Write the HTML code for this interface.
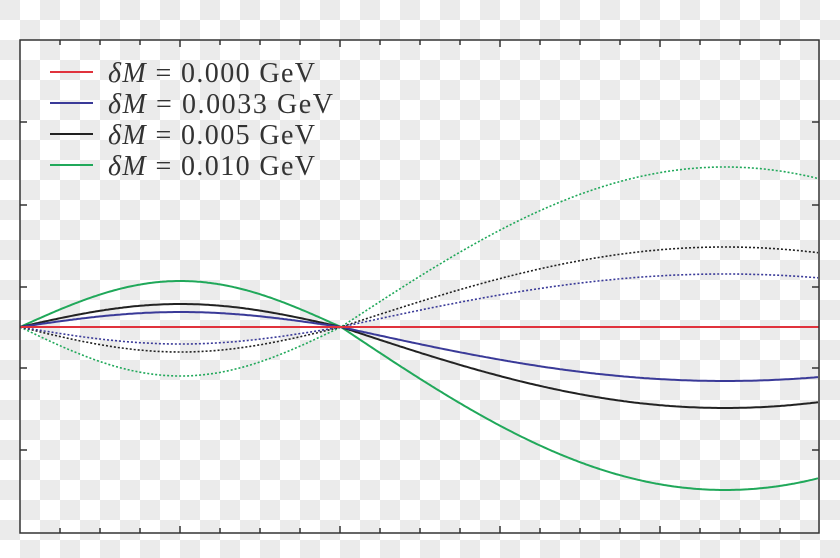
<!DOCTYPE html>
<html><head><meta charset="utf-8"><style>
html,body{margin:0;padding:0}
body{width:840px;height:558px;overflow:hidden;
background-color:#fff;
background-image:linear-gradient(45deg,#ebebeb 25%,transparent 25%,transparent 75%,#ebebeb 75%),linear-gradient(45deg,#ebebeb 25%,transparent 25%,transparent 75%,#ebebeb 75%);
background-size:40px 40px;background-position:20px 0,0 20px;}
svg{position:absolute;left:0;top:0}
text{font-family:"Liberation Serif",serif;font-size:28px;fill:#333}
</style></head><body>
<svg id="s" width="840" height="558" xmlns="http://www.w3.org/2000/svg">
<g id="ticks" stroke="#333" stroke-width="1.5"></g>
<g id="curves" fill="none" stroke-width="2"></g>
<rect x="20" y="40" width="799" height="493" fill="none" stroke="#333" stroke-width="1.5"/>
<g stroke-width="2">
<line x1="50" y1="72" x2="93" y2="72" stroke="#e0323c"/>
<line x1="50" y1="103" x2="93" y2="103" stroke="#3a3a98"/>
<line x1="50" y1="134" x2="93" y2="134" stroke="#222"/>
<line x1="50" y1="165" x2="93" y2="165" stroke="#20a85a"/>
</g>
<text x="108" y="82" textLength="207" lengthAdjust="spacing"><tspan font-style="italic">δM</tspan> = 0.000 GeV</text>
<text x="108" y="113" textLength="225" lengthAdjust="spacing"><tspan font-style="italic">δM</tspan> = 0.0033 GeV</text>
<text x="108" y="144" textLength="207" lengthAdjust="spacing"><tspan font-style="italic">δM</tspan> = 0.005 GeV</text>
<text x="108" y="175" textLength="207" lengthAdjust="spacing"><tspan font-style="italic">δM</tspan> = 0.010 GeV</text>
</svg>
<script>
var ns="http://www.w3.org/2000/svg";
function el(p,t,a){var e=document.createElementNS(ns,t);for(var k in a)e.setAttribute(k,a[k]);document.getElementById(p).appendChild(e);}
for(var x=60;x<=780;x+=40){var L=(x==180||x==340||x==500||x==660)?7:5;
el("ticks","line",{x1:x,y1:533,x2:x,y2:533-L});el("ticks","line",{x1:x,y1:40,x2:x,y2:40+L});}
[122,205,287,368,450].forEach(function(y){el("ticks","line",{x1:20,y1:y,x2:27,y2:y});el("ticks","line",{x1:819,y1:y,x2:812,y2:y});});
function f(x,a1,a2){if(x<=341)return 327-a1*Math.sin(Math.PI*(x-20)/321);return 327+a2*Math.sin(Math.PI/2*(x-341)/384);}
function path(a1,a2,c,dash){var d="";for(var x=20;x<=819;x+=2){d+=(x==20?"M":"L")+x+","+f(x,a1,a2).toFixed(1);}
var o={d:d,stroke:c};if(dash){o["stroke-dasharray"]="2,2";o["stroke-width"]=1.6;}el("curves","path",o);}
path(46,163,"#20a85a",0);path(-49,-160,"#20a85a",1);
path(23,81,"#222",0);path(-25,-80,"#222",1);
path(15,54,"#3a3a98",0);path(-17,-53,"#3a3a98",1);
el("curves","line",{x1:20,y1:327,x2:819,y2:327,stroke:"#e0323c"});
</script>
</body></html>
